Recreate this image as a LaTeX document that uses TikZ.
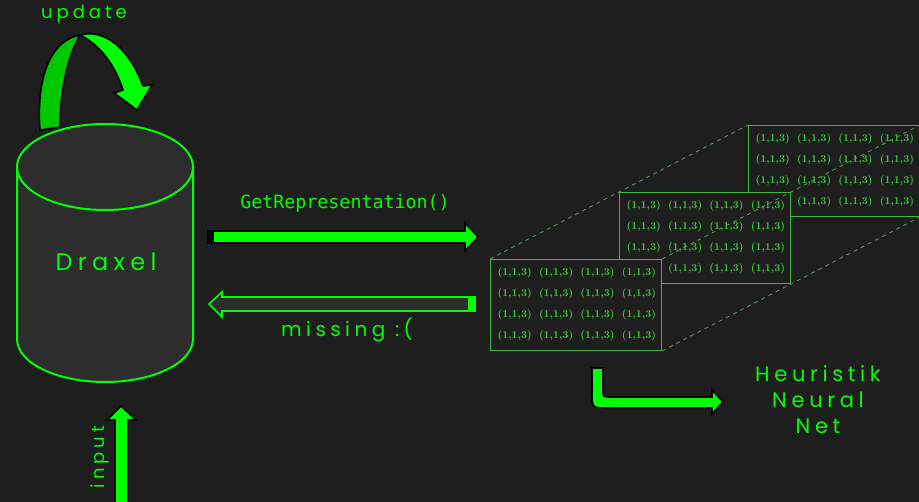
\documentclass[tikz,border=0pt]{standalone}
\usepackage{fontspec}
\newfontfamily\techfont[LetterSpace=22]{Poppins}
\newfontfamily\codefont{DejaVu Sans Mono}
\usetikzlibrary{positioning}
\definecolor{bg}{HTML}{1E1E1E}
\definecolor{cylfill}{HTML}{2D2D2D}
\definecolor{neon}{HTML}{00FF00}
\definecolor{neondark}{HTML}{00C800}
\definecolor{boxgreen}{HTML}{40B840}
\definecolor{entrygreen}{HTML}{3CCB3C}
\definecolor{dashgreen}{HTML}{5A9E5A}
\tikzset{
  fatarrow/.style={fill=neon, draw=black, line width=1.6pt, line join=miter},
  hollowarrow/.style={fill=cylfill, draw=neon, line width=1.6pt, line join=miter},
  cyl/.style={fill=cylfill, draw=neon, line width=2pt},
  block/.style={draw=boxgreen, fill=bg, line width=1pt, anchor=north west, minimum width=171pt, minimum height=91pt, inner sep=0pt},
  entry/.style={text=entrygreen, font=\bfseries\fontsize{10.5}{12}\selectfont, inner sep=0pt},
  techlabel/.style={text=neon, inner sep=0pt},
  depth/.style={draw=dashgreen, dash pattern=on 4pt off 4pt, line width=0.8pt}
}
\begin{document}
\begin{tikzpicture}[x=1pt, y=-1pt]
    \fill[bg] (0,0) rectangle (919,502);
    \useasboundingbox (0,0) rectangle (919,502);
    % draxel storage
    \path[cyl] (17,167) -- (17,339) arc[start angle=180, end angle=0, x radius=88, y radius=43] -- (193,167);
    \draw[cyl] (105,167) ellipse [x radius=88, y radius=43];
    \node[techlabel, font=\techfont\fontsize{24}{26}\selectfont] (draxel) at (106,262) {Draxel};
    % update loop
    \draw[fill=neondark, draw=black, line width=1.5pt, line join=round] (40,130) .. controls (36,75) and (52,40) .. (80,35) .. controls (68,55) and (60,90) .. (60,127) -- cycle;
    \draw[fatarrow, line join=round] (80,35) .. controls (105,28) and (130,50) .. (143,86) -- (152,85) -- (137,110) -- (114,93) -- (123,90) .. controls (115,65) and (100,45) .. (80,35) -- cycle;
    \node[techlabel, font=\techfont\fontsize{18}{20}\selectfont] (update) at (84,14) {update};
    % request
    \node[techlabel, font=\codefont\fontsize{18.3}{20}\selectfont] (getrep) at (345,203) {GetRepresentation()};
    \draw[fatarrow] (208,231) -- (465,231) -- (465,223) -- (478,237) -- (465,251) -- (465,243) -- (208,243) -- cycle;
    \fill[black] (208,231) rectangle (214,243);
    % answer
    \draw[hollowarrow] (475,297) -- (222,297) -- (222,292) -- (209,304) -- (222,317) -- (222,311) -- (475,311) -- cycle;
    \fill[neon] (468,297) rectangle (475,311);
    \node[techlabel, font=\techfont\fontsize{20}{22}\selectfont] (missing) at (347,330) {missing :(};
    % input
    \draw[fatarrow] (115,510) -- (115,420) -- (107,420) -- (121,406) -- (136,420) -- (128,420) -- (128,510) -- cycle;
    \node[techlabel, rotate=90, font=\techfont\fontsize{18}{20}\selectfont] (input) at (100,457) {input};
    % representation blocks (bottom left entry of the hidden ones is covered)
    \foreach \bx/\by/\nm/\cover in {748/125/back/1, 619/192/middle/1, 490/259/front/0}{
        \node[block] (\nm) at (\bx,\by) {};
        \foreach \c in {0,...,3}
            \foreach \r in {0,...,3}{
                \pgfmathtruncatemacro\skip{\cover*(\c==0)*(\r==3)}
                \ifnum\skip=0
                    \node[entry] at (\bx+24.7+41.4*\c, \by+14+20.8*\r) {(1,1,3)};
                \fi
            }
    }
    \draw[depth] (front.north west) -- (back.north west);
    \draw[depth] (front.north east) -- (back.north east);
    \draw[depth] (front.south east) -- (back.south east);
    % to the net
    \draw[fatarrow] (592,368) -- (603,368) -- (603,390) .. controls (603,397) .. (610,397) -- (712,397) -- (712,390) -- (723,402) -- (712,414) -- (712,408) -- (608,408) .. controls (592,408) .. (592,392) -- cycle;
    \node[techlabel, align=center, font=\techfont\fontsize{21}{26}\selectfont] (net) at (818,400) {Heuristik\\Neural\\Net};
\end{tikzpicture}
\end{document}
